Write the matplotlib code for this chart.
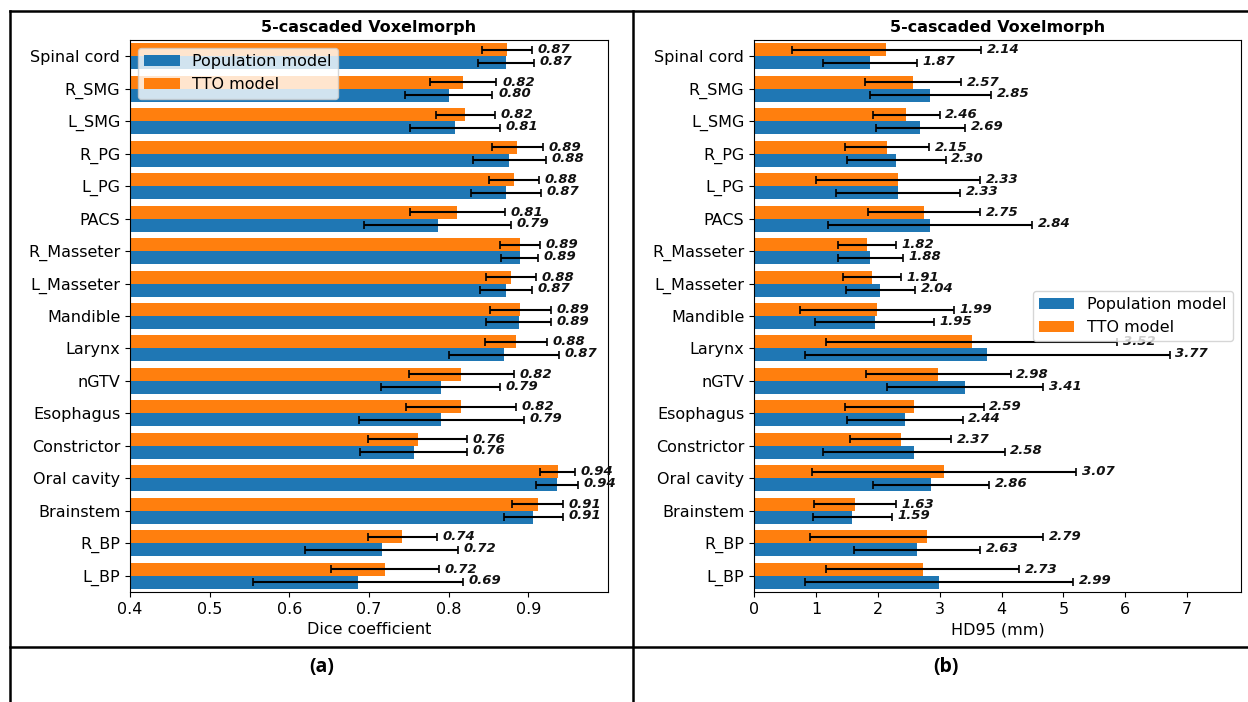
import numpy as np
import matplotlib
matplotlib.use("Agg")
import matplotlib.pyplot as plt
from matplotlib.lines import Line2D

# organs, bottom to top as drawn on the y axis
organs = ["L_BP", "R_BP", "Brainstem", "Oral cavity", "Constrictor", "Esophagus",
          "nGTV", "Larynx", "Mandible", "L_Masseter", "R_Masseter", "PACS",
          "L_PG", "R_PG", "L_SMG", "R_SMG", "Spinal cord"]

# Dice coefficient (mean, std)
dice_pop = [0.686, 0.716, 0.906, 0.936, 0.756, 0.791, 0.790, 0.870, 0.888, 0.872,
            0.889, 0.786, 0.872, 0.876, 0.808, 0.800, 0.872]
dice_pop_sd = [0.132, 0.096, 0.037, 0.026, 0.067, 0.103, 0.075, 0.069, 0.041, 0.033,
               0.023, 0.092, 0.044, 0.046, 0.056, 0.055, 0.035]
dice_tto = [0.720, 0.742, 0.912, 0.937, 0.761, 0.816, 0.816, 0.884, 0.890, 0.878,
            0.890, 0.811, 0.882, 0.886, 0.821, 0.818, 0.873]
dice_tto_sd = [0.068, 0.043, 0.032, 0.022, 0.062, 0.069, 0.066, 0.039, 0.038, 0.031,
               0.025, 0.060, 0.031, 0.032, 0.037, 0.042, 0.031]

# HD95 in mm (mean, std)
hd_pop = [2.99, 2.63, 1.59, 2.86, 2.58, 2.44, 3.41, 3.77, 1.95, 2.04,
          1.88, 2.84, 2.33, 2.30, 2.69, 2.85, 1.87]
hd_pop_sd = [2.17, 1.02, 0.635, 0.94, 1.47, 0.93, 1.26, 2.95, 0.96, 0.56,
             0.53, 1.65, 1.00, 0.80, 0.72, 0.98, 0.76]
hd_tto = [2.73, 2.79, 1.63, 3.07, 2.37, 2.59, 2.98, 3.52, 1.99, 1.91,
          1.82, 2.75, 2.33, 2.15, 2.46, 2.57, 2.14]
hd_tto_sd = [1.56, 1.88, 0.66, 2.14, 0.82, 1.12, 1.17, 2.35, 1.24, 0.47,
             0.47, 0.90, 1.32, 0.68, 0.54, 0.78, 1.53]

W, H = 1248, 702
fig = plt.figure(figsize=(W / 100, H / 100), dpi=100)

def draw(ax, pop, pop_sd, tto, tto_sd, xlabel, legend_loc):
    y = np.arange(len(organs))
    h = 0.4
    ekw = dict(ecolor="black", capsize=3, elinewidth=1.5, capthick=1.2)
    ax.barh(y - h / 2, pop, height=h, color="#1f77b4", label="Population model",
            xerr=pop_sd, error_kw=ekw)
    ax.barh(y + h / 2, tto, height=h, color="#ff7f0e", label="TTO model",
            xerr=tto_sd, error_kw=ekw)
    # value labels just right of the error bars
    for i in range(len(organs)):
        ax.annotate(f"{tto[i]:.2f}", (tto[i] + tto_sd[i], y[i] + h / 2), xytext=(4, 0),
                    textcoords="offset points", va="center", ha="left",
                    fontsize=9.5, fontweight="bold", style="italic", color="#111111")
        ax.annotate(f"{pop[i]:.2f}", (pop[i] + pop_sd[i], y[i] - h / 2), xytext=(4, 1),
                    textcoords="offset points", va="center", ha="left",
                    fontsize=9.5, fontweight="bold", style="italic", color="#111111")
    ax.set_yticks(y)
    ax.set_yticklabels(organs, fontsize=11.5)
    ax.set_ylim(-0.5, len(organs) - 0.5)
    ax.tick_params(axis="x", labelsize=11.5)
    ax.set_xlabel(xlabel, fontsize=11.5)
    ax.set_title("5-cascaded Voxelmorph", fontsize=11.5, fontweight="bold", pad=6)
    ax.legend(loc=legend_loc, fontsize=11.5, handlelength=2.2)

ax1 = fig.add_axes([130 / W, 1 - 592 / H, 478 / W, 552 / H])
draw(ax1, dice_pop, dice_pop_sd, dice_tto, dice_tto_sd, "Dice coefficient", "upper left")
ax1.set_xlim(0.4, 1.0)
ax1.set_xticks([0.4, 0.5, 0.6, 0.7, 0.8, 0.9])

ax2 = fig.add_axes([754 / W, 1 - 592 / H, 487 / W, 552 / H])
draw(ax2, hd_pop, hd_pop_sd, hd_tto, hd_tto_sd, "HD95 (mm)", "center right")
ax2.set_xlim(0, 7.87)
ax2.set_xticks(range(8))

# table borders around the two panels
def hline(yp, x0, x1):
    fig.add_artist(Line2D([x0 / W, x1 / W], [1 - yp / H, 1 - yp / H], color="black", lw=1.8))

def vline(xp, y0, y1):
    fig.add_artist(Line2D([xp / W, xp / W], [1 - y0 / H, 1 - y1 / H], color="black", lw=1.8))

hline(11, 10, W)
hline(647, 10, W)
vline(10, 11, H)
vline(633, 11, H)

fig.text(322 / W, 1 - 667 / H, "(a)", ha="center", va="center", fontsize=14,
         fontweight="bold", family="Open Sans")
fig.text(946 / W, 1 - 667 / H, "(b)", ha="center", va="center", fontsize=14,
         fontweight="bold", family="Open Sans")

fig.savefig("out.png", dpi=100)
